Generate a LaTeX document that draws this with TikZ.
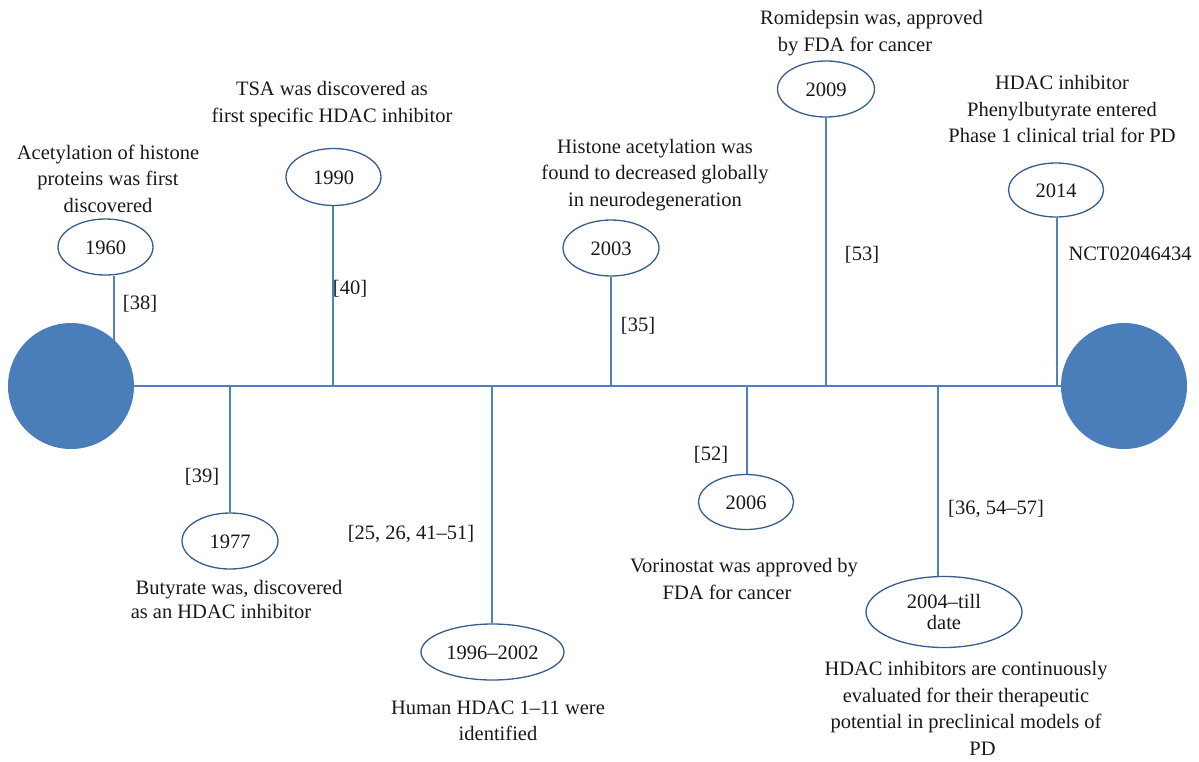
\documentclass[tikz,border=0pt]{standalone}
\usepackage{fontspec}
\setmainfont{Liberation Serif}
\usetikzlibrary{shapes.geometric,backgrounds}
\definecolor{linecol}{RGB}{79,129,189}
\definecolor{ellcol}{RGB}{56,93,138}
\definecolor{circfill}{RGB}{74,126,187}
\begin{document}
\begin{tikzpicture}[x=1pt,y=-1pt,
  every node/.style={font=\fontsize{20.5}{26.5}\selectfont, inner sep=0pt, text=black!90},
  yearbox/.style={ellipse, draw=ellcol, line width=1.3pt, fill=white, text height=14pt, text depth=0pt},
  desc/.style={align=center, execute at begin node=\strut, execute at end node=\strut},
  reflabel/.style={text height=14pt, text depth=0pt},
  conn/.style={draw=linecol, line width=1.5pt},
  endcirc/.style={circle, fill=circfill, minimum size=126pt}
]
\useasboundingbox (0,0) rectangle (1199,761);

% end circles
\node[endcirc] (lc) at (71,386) {};
\node[endcirc] (rc) at (1124,386) {};

% timeline points
\coordinate (t1960) at (114,386);
\coordinate (t1977) at (230,386);
\coordinate (t1990) at (333,386);
\coordinate (t1996) at (492,386);
\coordinate (t2003) at (611,386);
\coordinate (t2006) at (747,386);
\coordinate (t2009) at (826,386);
\coordinate (t2004) at (938,386);
\coordinate (t2014) at (1057,386);

% year ellipses
\node[yearbox, minimum width=95pt, minimum height=56pt] (e1960) at (105.5,247) {1960};
\node[yearbox, minimum width=95pt, minimum height=57pt] (e1990) at (333.5,177) {1990};
\node[yearbox, minimum width=96pt, minimum height=56pt] (e2003) at (611,248) {2003};
\node[yearbox, minimum width=97pt, minimum height=56pt] (e2009) at (826,89) {2009};
\node[yearbox, minimum width=95pt, minimum height=54pt] (e2014) at (1056,190) {2014};
\node[yearbox, minimum width=96pt, minimum height=56pt] (e1977) at (230,541) {1977};
\node[yearbox, minimum width=143pt, minimum height=56pt] (e1996) at (492.5,652) {1996--2002};
\node[yearbox, minimum width=95pt, minimum height=55pt] (e2006) at (746,502) {2006};
\node[ellipse, draw=ellcol, line width=1.3pt, fill=white, minimum width=156pt, minimum height=71pt,
      align=center, font=\fontsize{20.5}{21}\selectfont] (e2004) at (944,612) {2004--till\\date};

% descriptions
\node[desc] (d1960) at (108,182.5) {Acetylation of histone\\proteins was first\\discovered};
\node[desc] (d1990) at (332,106) {TSA was discovered as\\first specific HDAC inhibitor};
\node[desc] (d2003) at (655,176.5) {Histone acetylation was\\found to decreased globally\\in neurodegeneration};
\node[desc] (d2009) at (871.5,35) {Romidepsin was, approved\\by FDA for cancer\hspace*{33pt}\mbox{}};
\node[desc] (d2014) at (1062,113) {HDAC inhibitor\\Phenylbutyrate entered\\Phase 1 clinical trial for PD};
\node[desc, font=\fontsize{20.5}{24}\selectfont] (d1977) at (230,603) {\hspace*{18pt}Butyrate was, discovered\\as an HDAC inhibitor\hspace*{18pt}\mbox{}};
\node[desc] (d1996) at (498,724.5) {Human HDAC 1--11 were\\identified};
\node[desc] (d2006) at (744,583) {Vorinostat was approved by\\FDA for cancer\hspace*{34pt}\mbox{}};
\node[desc] (d2004) at (966,712.5) {HDAC inhibitors are continuously\\evaluated for their therapeutic\\potential in preclinical models of\\\hspace*{33pt}PD};

% references
\node[reflabel] (r1960) at (140,302) {[38]};
\node[reflabel] (r1990) at (350,287) {[40]};
\node[reflabel] (r2003) at (638,324) {[35]};
\node[reflabel] (r2009) at (862,253) {[53]};
\node[reflabel] (r2014) at (1130,253) {NCT02046434};
\node[reflabel] (r1977) at (202,475) {[39]};
\node[reflabel] (r1996) at (411,532) {[25, 26, 41--51]};
\node[reflabel] (r2006) at (711,453) {[52]};
\node[reflabel] (r2004) at (996,507) {[36, 54--57]};

\begin{pgfonlayer}{background}
\draw[conn] (lc) -- (rc);
\draw[conn] (e1960.south -| t1960) -- (t1960);
\draw[conn] (e1990.south -| t1990) -- (t1990);
\draw[conn] (e2003.south -| t2003) -- (t2003);
\draw[conn] (e2009.south -| t2009) -- (t2009);
\draw[conn] (e2014.south -| t2014) -- (t2014);
\draw[conn] (e1977.north -| t1977) -- (t1977);
\draw[conn] (e1996.north -| t1996) -- (t1996);
\draw[conn] (e2006.north -| t2006) -- (t2006);
\draw[conn] (e2004.north -| t2004) -- (t2004);
\end{pgfonlayer}
\end{tikzpicture}
\end{document}
